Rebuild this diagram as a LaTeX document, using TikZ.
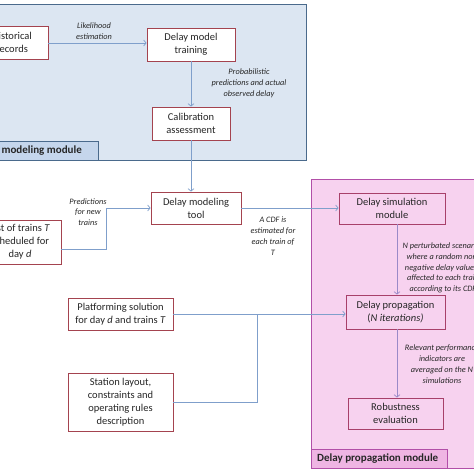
\documentclass[tikz,border=0pt]{standalone}
\usepackage{fontspec}
\setmainfont{Carlito}
\usetikzlibrary{arrows.meta,calc}
\definecolor{bfill}{HTML}{DCE6F2}
\definecolor{bborder}{HTML}{4A6A8C}
\definecolor{blabel}{HTML}{C5D6EC}
\definecolor{pfill}{HTML}{F7D2EF}
\definecolor{pborder}{HTML}{B24FA8}
\definecolor{plabel}{HTML}{EFB5E3}
\definecolor{rborder}{HTML}{A4434F}
\definecolor{prborder}{HTML}{A8406A}
\definecolor{cblue}{HTML}{7F9FCB}
\definecolor{cpurp}{HTML}{9A8AC8}
\definecolor{txt}{HTML}{262626}
\tikzset{
  box/.style={draw=rborder, line width=0.9pt, fill=white, align=center, inner sep=0pt,
    text=txt, font=\fontsize{10.5}{13}\selectfont},
  pbox/.style={box, draw=prborder, fill=pfill},
  lab/.style={align=center, text=txt, font=\fontsize{8.3}{10.8}\selectfont\itshape, inner sep=0pt},
  conn/.style={draw=cblue, line width=0.7pt, -{Straight Barb[length=2.5pt,width=6pt]}},
  pconn/.style={conn, draw=cpurp},
  modlab/.style={font=\fontsize{11}{12}\selectfont\bfseries, text=txt, inner sep=0pt, anchor=west}
}
\begin{document}
\begin{tikzpicture}[x=1pt,y=-1pt]
\useasboundingbox (0,0) rectangle (474,474);
\clip (0,0) rectangle (474,474);
\fill[white] (0,0) rectangle (474,474);
% modules
\draw[bborder, fill=bfill, line width=0.9pt] (-5,4) rectangle (306,160);
\draw[bborder, fill=blabel, line width=0.9pt] (-5,141) rectangle (98,160);
\node[modlab, anchor=east] (mlab1) at (82,151) {Delay modeling module};
\draw[pborder, fill=pfill, line width=1pt] (311,179) rectangle (490,468);
\draw[pborder, fill=plabel, line width=1pt] (311,449) rectangle (447,468);
\node[modlab] (mlab2) at (317,459) {Delay propagation module};
% nodes
\node[box, minimum width=72pt, minimum height=33pt] (hist) at (12,42.5) {Historical\\records};
\node[box, minimum width=88pt, minimum height=33pt] (dmt) at (191,44.5) {Delay model\\training};
\node[box, minimum width=78pt, minimum height=33pt] (cal) at (191,123.5) {Calibration\\assessment};
\node[box, minimum width=90pt, minimum height=32pt] (tool) at (196,208) {Delay modeling\\tool};
\node[box, minimum width=82pt, minimum height=44pt] (list) at (20,242) {List of trains \textit{T}\\scheduled for\\day \textit{d}};
\node[box, minimum width=105pt, minimum height=32pt] (plat) at (120.5,314) {Platforming solution\\for day \textit{d} and trains \textit{T}};
\node[box, minimum width=105pt, minimum height=58pt] (stat) at (120.5,402) {Station layout,\\constraints and\\operating rules\\description};
\node[pbox, minimum width=106pt, minimum height=31pt] (sim) at (392,208.5) {Delay simulation\\module};
\node[pbox, minimum width=99pt, minimum height=34pt] (prop) at (395.5,312) {Delay propagation\\(\textit{N iterations)}};
\node[pbox, minimum width=95pt, minimum height=31pt] (rob) at (395.5,413.5) {Robustness\\evaluation};
% labels
\node[lab] (l1) at (94,31) {Likelihood\\estimation};
\node[lab] (l2) at (249,83) {Probabilistic\\predictions and actual\\observed delay};
\node[lab] (l3) at (88,212) {Predictions\\for new\\trains};
\node[lab] (l4) at (273,236) {A CDF is\\estimated for\\each train of\\T};
\node[lab] (l5) at (443,268) {N perturbated scenarios\\where a random non-\\negative delay value is\\affected to each train\\according to its CDF};
\node[lab] (l6) at (442,364) {Relevant performance\\indicators are\\averaged on the N\\simulations};
% connectors
\coordinate (j) at (257,314);
\draw[conn] (hist.east |- 0,43) -- (dmt.west |- 0,43);
\draw[conn] (dmt.south) -- (cal.north);
\draw[conn] (cal.south) -- (cal.south |- tool.north);
\draw[conn] ([yshift=-7pt]list.east) -- ++(45,0) |- (tool.west);
\draw[conn] (tool.east) -- (tool.east -| sim.west);
\draw[pconn] ([xshift=5pt]sim.south) -- ([xshift=5pt]sim.south |- prop.north);
\draw[pconn] ([xshift=1.5pt]prop.south) -- ([xshift=1.5pt]prop.south |- rob.north);
\draw[conn] (plat.east) -- (plat.east -| prop.west);
\draw[draw=cblue, line width=0.7pt] (stat.east) -| (j);
\end{tikzpicture}
\end{document}
